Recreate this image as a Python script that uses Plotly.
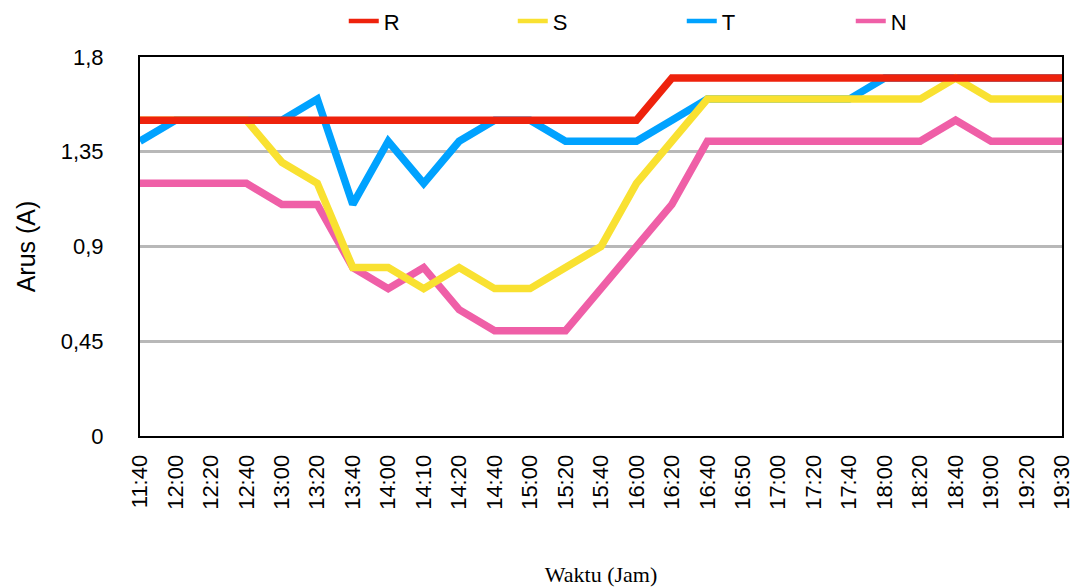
import plotly.graph_objects as go

# Measurement times (x categories)
waktu = ["11:40", "12:00", "12:20", "12:40", "13:00", "13:20", "13:40", "14:00",
         "14:10", "14:20", "14:40", "15:00", "15:20", "15:40", "16:00", "16:20",
         "16:40", "16:50", "17:00", "17:20", "17:40", "18:00", "18:20", "18:40",
         "19:00", "19:20", "19:30"]

# Phase currents (A)
arus_r = [1.5, 1.5, 1.5, 1.5, 1.5, 1.5, 1.5, 1.5, 1.5, 1.5, 1.5, 1.5, 1.5, 1.5,
          1.5, 1.7, 1.7, 1.7, 1.7, 1.7, 1.7, 1.7, 1.7, 1.7, 1.7, 1.7, 1.7]
arus_s = [1.5, 1.5, 1.5, 1.5, 1.3, 1.2, 0.8, 0.8, 0.7, 0.8, 0.7, 0.7, 0.8, 0.9,
          1.2, 1.4, 1.6, 1.6, 1.6, 1.6, 1.6, 1.6, 1.6, 1.7, 1.6, 1.6, 1.6]
arus_t = [1.4, 1.5, 1.5, 1.5, 1.5, 1.6, 1.1, 1.4, 1.2, 1.4, 1.5, 1.5, 1.4, 1.4,
          1.4, 1.5, 1.6, 1.6, 1.6, 1.6, 1.6, 1.7, 1.7, 1.7, 1.7, 1.7, 1.7]
arus_n = [1.2, 1.2, 1.2, 1.2, 1.1, 1.1, 0.8, 0.7, 0.8, 0.6, 0.5, 0.5, 0.5, 0.7,
          0.9, 1.1, 1.4, 1.4, 1.4, 1.4, 1.4, 1.4, 1.4, 1.5, 1.4, 1.4, 1.4]

y_ticks = [0, 0.45, 0.9, 1.35, 1.8]
y_tick_text = ["0", "0,45", "0,9", "1,35", "1,8"]

# Drawing order (bottom to top): N, T, S, R; legend order: R, S, T, N
series = [
    ("N", arus_n, "#EF5FA7", 4),
    ("T", arus_t, "#00A2FF", 3),
    ("S", arus_s, "#F9E131", 2),
    ("R", arus_r, "#EE220C", 1),
]

fig = go.Figure()
for name, vals, color, rank in series:
    fig.add_trace(go.Scatter(
        x=list(range(len(waktu))), y=vals, name=name, mode="lines",
        line=dict(color=color, width=7.5), showlegend=False,
    ))
# Legend entries with a thinner swatch than the plotted lines
for name, vals, color, rank in series:
    fig.add_trace(go.Scatter(
        x=[None], y=[None], name=name, mode="lines",
        line=dict(color=color, width=4.5), legendrank=rank, showlegend=True,
    ))

sans = "Liberation Sans, Arial, sans-serif"
fig.update_layout(
    width=1077, height=588,
    margin=dict(l=140, r=15, t=57, b=152),
    plot_bgcolor="white", paper_bgcolor="white",
    font=dict(family=sans, size=21, color="black"),
    showlegend=True,
    legend=dict(
        orientation="h", x=0.221, xanchor="left", y=0.964, yanchor="middle",
        yref="container", entrywidth=124, entrywidthmode="pixels",
        font=dict(size=22), itemwidth=30, bgcolor="rgba(0,0,0,0)",
    ),
    xaxis=dict(
        range=[0, len(waktu) - 1], tickmode="array",
        tickvals=list(range(len(waktu))), ticktext=waktu,
        tickangle=-90, showgrid=False, zeroline=False, automargin=False,
        showline=True, linecolor="black", linewidth=2, mirror=True,
        ticks="", ticklabelstandoff=8, tickfont=dict(size=22),
        title=dict(text="Waktu (Jam)",
                   font=dict(family="Liberation Serif, Times New Roman, serif", size=22),
                   standoff=58),
    ),
    yaxis=dict(
        range=[0, 1.8], tickmode="array", tickvals=y_ticks, ticktext=y_tick_text,
        showgrid=True, gridcolor="#B8B8B8", gridwidth=2.5, zeroline=False,
        showline=True, linecolor="black", linewidth=2, mirror=True, automargin=False,
        ticks="", ticklabelstandoff=30, tickfont=dict(size=22),
        title=dict(text="Arus (A)", standoff=18),
    ),
)

fig.write_html("out.html")
